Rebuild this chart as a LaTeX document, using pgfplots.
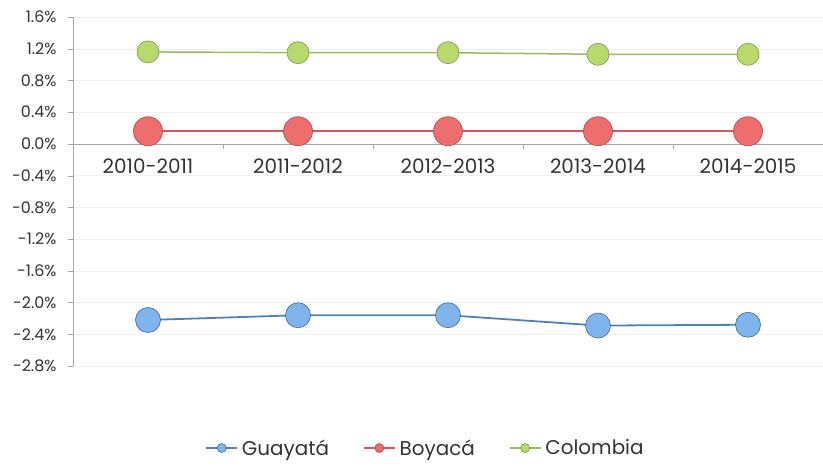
\documentclass[border=0pt]{standalone}
\usepackage{pgfplots}
\pgfplotsset{compat=1.18}
\usepackage{fontspec}
\setmainfont{Poppins}
\definecolor{gblue}{HTML}{4F81BD}
\definecolor{gbluef}{HTML}{80B4EC}
\definecolor{gred}{HTML}{D9535A}
\definecolor{gredf}{HTML}{EE6E6E}
\definecolor{ggreen}{HTML}{9BBB59}
\definecolor{ggreenf}{HTML}{B8D96C}
\definecolor{axgray}{HTML}{A6A6A6}
\begin{document}
\begin{tikzpicture}
\useasboundingbox (0,0) rectangle (823bp,467bp);
\begin{axis}[
  at={(73bp,101bp)}, anchor=south west,
  scale only axis, width=750bp, height=349bp,
  xmin=-0.5, xmax=4.5, ymin=-2.8, ymax=1.6,
  axis x line=middle, axis y line=left,
  axis line style={axgray, -},
  xtick={0,...,4},
  xticklabels={2010-2011,2011-2012,2012-2013,2013-2014,2014-2015},
  minor xtick={0.5,1.5,2.5,3.5},
  major x tick style={draw=none},
  minor x tick style={axgray},
  minor tick length=5bp,
  xticklabel style={font=\fontsize{20}{22}\selectfont, text=black!80, yshift=-6bp},
  ytick={-2.8,-2.4,...,1.61},
  yticklabel={\pgfmathprintnumber[fixed,fixed zerofill,precision=1]{\tick}\%},
  yticklabel style={font=\fontsize{16}{18}\selectfont, text=black!80, xshift=-8bp},
  /pgf/number format/assume math mode=true,
  y tick style={axgray}, tick align=outside, major tick length=5bp,
  ymajorgrids, grid style={black!6},
  clip=false,
  legend columns=3,
  legend style={at={(0.47,-0.235)}, anchor=center, draw=none, fill=none,
    font=\fontsize{20}{22}\selectfont, text=black!80,
    /tikz/every odd column/.append style={column sep=2bp},
    /tikz/every even column/.append style={column sep=32bp}},
  legend image code/.code={
    \draw[#1, mark=none, line width=1.4pt] (0cm,0cm) -- (1.1cm,0cm);
    \draw[#1, mark size=4.5pt, line width=0.6pt] plot coordinates {(0.55cm,0cm)};
  },
]
\addplot[gblue, line width=1.8pt, mark=*, mark size=12.5bp,
  mark options={fill=gbluef, draw=gblue!80!black, line width=0.6pt}]
  coordinates {(0,-2.22) (1,-2.16) (2,-2.16) (3,-2.29) (4,-2.28)};
\addlegendentry{Guayatá}
\addplot[gred, line width=2.2pt, mark=*, mark size=14.5bp,
  mark options={fill=gredf, draw=gred!80!black, line width=0.6pt}]
  coordinates {(0,0.16) (1,0.16) (2,0.16) (3,0.16) (4,0.16)};
\addlegendentry{Boyacá}
\addplot[ggreen, line width=1.5pt, mark=*, mark size=11bp,
  mark options={fill=ggreenf, draw=ggreen!80!black, line width=0.6pt}]
  coordinates {(0,1.16) (1,1.15) (2,1.15) (3,1.13) (4,1.13)};
\addlegendentry{Colombia}
\end{axis}
\end{tikzpicture}
\end{document}
